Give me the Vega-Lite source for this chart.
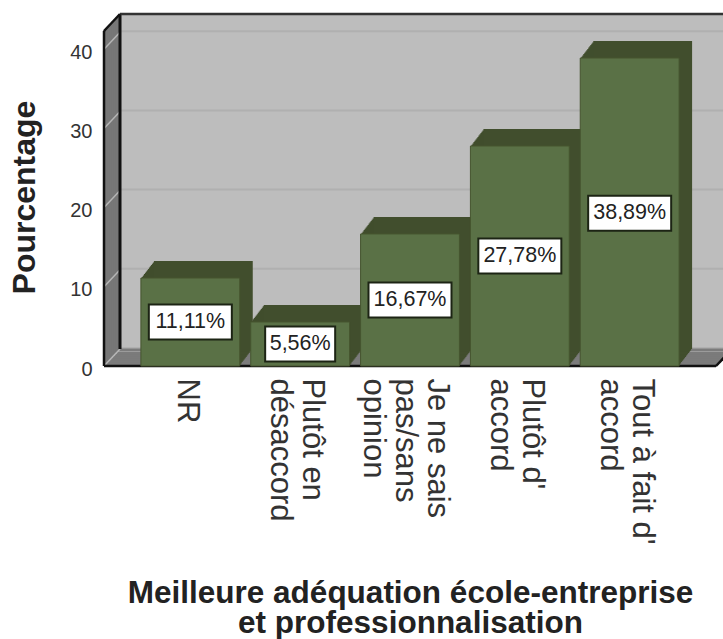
{
"$schema":"https://vega.github.io/schema/vega-lite/v6.json",
"width":612,"height":335,
"autosize":{"type":"none"},
"padding":{"left":104,"top":31,"right":7,"bottom":273},
"background":"white",
"config":{"view":{"stroke":null},"font":"Liberation Sans"},
"datasets":{
"reponses":[
{"reponse":"NR","pct":11.11,"milieu":5.56,"etiquette":"11,11%"},
{"reponse":"Plutôt en désaccord","pct":5.56,"milieu":2.78,"etiquette":"5,56%"},
{"reponse":"Je ne sais pas/sans opinion","pct":16.67,"milieu":8.33,"etiquette":"16,67%"},
{"reponse":"Plutôt d' accord","pct":27.78,"milieu":13.89,"etiquette":"27,78%"},
{"reponse":"Tout à fait d' accord","pct":38.89,"milieu":19.3,"etiquette":"38,89%"}],
"cadre":[{"a":0,"b":1,"bas":0,"haut":42.3}],
"grille":[{"g":0,"a":0,"b":1},{"g":10,"a":0,"b":1},{"g":20,"a":0,"b":1},{"g":30,"a":0,"b":1},{"g":40,"a":0,"b":1}]
},
"resolve":{"scale":{"x":"independent"},"axis":{"x":"independent"}},
"layer":[
{"encoding":{"x":{"field":"a","type":"quantitative","scale":{"domain":[0,1]},"axis":null}},
 "layer":[
 {"data":{"name":"cadre"},"mark":{"type":"rect","color":"#bdbdbd","xOffset":16,"x2Offset":16,"yOffset":-17,"y2Offset":-17},
  "encoding":{"x2":{"field":"b"},"y":{"field":"bas","type":"quantitative","scale":{"domain":[0,42.3],"nice":false},"axis":{"values":[0,10,20,30,40],"grid":false,"domain":false,"ticks":false,"labelFontSize":20,"labelColor":"#333","labelPadding":12,"labelOffset":3,"title":"Pourcentage","titleFontSize":32,"titleFontWeight":"bold","titleColor":"#222","titleX":-63,"titleY":166}},"y2":{"field":"haut"}}},
 {"data":{"name":"grille"},"mark":{"type":"rule","color":"#b0b0b0","strokeWidth":2,"xOffset":16,"x2Offset":16,"yOffset":-18},
  "encoding":{"x2":{"field":"b"},"y":{"field":"g","type":"quantitative"}}},
 {"data":{"name":"cadre"},"mark":{"type":"rule","color":"#777777","strokeWidth":3,"xOffset":1,"yOffset":-1,"y2Offset":-1},"encoding":{"y":{"field":"bas","type":"quantitative"},"y2":{"field":"haut"}}},
 {"data":{"name":"cadre"},"mark":{"type":"rule","color":"#777777","strokeWidth":3,"xOffset":3,"yOffset":-3,"y2Offset":-3},"encoding":{"y":{"field":"bas","type":"quantitative"},"y2":{"field":"haut"}}},
 {"data":{"name":"cadre"},"mark":{"type":"rule","color":"#777777","strokeWidth":3,"xOffset":5,"yOffset":-5,"y2Offset":-5},"encoding":{"y":{"field":"bas","type":"quantitative"},"y2":{"field":"haut"}}},
 {"data":{"name":"cadre"},"mark":{"type":"rule","color":"#777777","strokeWidth":3,"xOffset":7,"yOffset":-7,"y2Offset":-7},"encoding":{"y":{"field":"bas","type":"quantitative"},"y2":{"field":"haut"}}},
 {"data":{"name":"cadre"},"mark":{"type":"rule","color":"#777777","strokeWidth":3,"xOffset":9,"yOffset":-9.5,"y2Offset":-9.5},"encoding":{"y":{"field":"bas","type":"quantitative"},"y2":{"field":"haut"}}},
 {"data":{"name":"cadre"},"mark":{"type":"rule","color":"#777777","strokeWidth":3,"xOffset":11,"yOffset":-11.5,"y2Offset":-11.5},"encoding":{"y":{"field":"bas","type":"quantitative"},"y2":{"field":"haut"}}},
 {"data":{"name":"cadre"},"mark":{"type":"rule","color":"#777777","strokeWidth":3,"xOffset":13,"yOffset":-13.5,"y2Offset":-13.5},"encoding":{"y":{"field":"bas","type":"quantitative"},"y2":{"field":"haut"}}},
 {"data":{"name":"cadre"},"mark":{"type":"rule","color":"#777777","strokeWidth":3,"xOffset":15,"yOffset":-16,"y2Offset":-16},"encoding":{"y":{"field":"bas","type":"quantitative"},"y2":{"field":"haut"}}},
 {"data":{"name":"cadre"},"mark":{"type":"rule","color":"#7b7b7b","strokeWidth":3.2,"xOffset":1,"x2Offset":1,"yOffset":-1},"encoding":{"x2":{"field":"b"},"y":{"field":"bas","type":"quantitative"}}},
 {"data":{"name":"cadre"},"mark":{"type":"rule","color":"#7b7b7b","strokeWidth":3.2,"xOffset":3,"x2Offset":3,"yOffset":-3},"encoding":{"x2":{"field":"b"},"y":{"field":"bas","type":"quantitative"}}},
 {"data":{"name":"cadre"},"mark":{"type":"rule","color":"#7b7b7b","strokeWidth":3.2,"xOffset":5,"x2Offset":5,"yOffset":-5},"encoding":{"x2":{"field":"b"},"y":{"field":"bas","type":"quantitative"}}},
 {"data":{"name":"cadre"},"mark":{"type":"rule","color":"#7b7b7b","strokeWidth":3.2,"xOffset":7,"x2Offset":7,"yOffset":-7},"encoding":{"x2":{"field":"b"},"y":{"field":"bas","type":"quantitative"}}},
 {"data":{"name":"cadre"},"mark":{"type":"rule","color":"#7b7b7b","strokeWidth":3.2,"xOffset":9,"x2Offset":9,"yOffset":-9},"encoding":{"x2":{"field":"b"},"y":{"field":"bas","type":"quantitative"}}},
 {"data":{"name":"cadre"},"mark":{"type":"rule","color":"#7b7b7b","strokeWidth":3.2,"xOffset":11,"x2Offset":11,"yOffset":-11},"encoding":{"x2":{"field":"b"},"y":{"field":"bas","type":"quantitative"}}},
 {"data":{"name":"cadre"},"mark":{"type":"rule","color":"#7b7b7b","strokeWidth":3.2,"xOffset":13,"x2Offset":13,"yOffset":-13},"encoding":{"x2":{"field":"b"},"y":{"field":"bas","type":"quantitative"}}},
 {"data":{"name":"cadre"},"mark":{"type":"rule","color":"#7b7b7b","strokeWidth":3.2,"xOffset":15,"x2Offset":15,"yOffset":-16},"encoding":{"x2":{"field":"b"},"y":{"field":"bas","type":"quantitative"}}},
 {"data":{"name":"grille"},"mark":{"type":"rule","color":"#b5b5b5","strokeWidth":1.5,"x2Offset":16,"y2Offset":-17},
  "encoding":{"x2":{"field":"a"},"y":{"field":"g","type":"quantitative"},"y2":{"field":"g"}}},
 {"data":{"name":"cadre"},"mark":{"type":"rule","color":"#111111","strokeWidth":3,"xOffset":16,"yOffset":-17,"y2Offset":-17},"encoding":{"y":{"field":"bas","type":"quantitative"},"y2":{"field":"haut"}}},
 {"data":{"name":"cadre"},"mark":{"type":"rule","color":"#333333","strokeWidth":2.5,"xOffset":16,"x2Offset":16,"yOffset":-17},"encoding":{"x2":{"field":"b"},"y":{"field":"haut","type":"quantitative"}}},
 {"data":{"name":"cadre"},"mark":{"type":"rule","color":"#111111","strokeWidth":2.5},"encoding":{"y":{"field":"bas","type":"quantitative"},"y2":{"field":"haut"}}},
 {"data":{"name":"cadre"},"mark":{"type":"rule","color":"#111111","strokeWidth":2.5,"x2Offset":16,"y2Offset":-17},"encoding":{"x2":{"field":"a"},"y":{"field":"haut","type":"quantitative"},"y2":{"field":"haut"}}},
 {"data":{"name":"cadre"},"mark":{"type":"rule","color":"#111111","strokeWidth":2.5,"x2Offset":16,"y2Offset":-17},"encoding":{"x":{"field":"b","type":"quantitative"},"x2":{"field":"b"},"y":{"field":"bas","type":"quantitative"},"y2":{"field":"bas"}}},
 {"data":{"name":"cadre"},"mark":{"type":"rule","color":"#111111","strokeWidth":2.5},"encoding":{"x2":{"field":"b"},"y":{"field":"bas","type":"quantitative"}}}
 ]},
{"data":{"name":"reponses"},
 "encoding":{"x":{"field":"reponse","type":"nominal","sort":null,"scale":{"paddingInner":0.1,"paddingOuter":0.336},
   "axis":{"domain":false,"ticks":false,"grid":false,"labelAngle":90,"labelFontSize":31,"labelColor":"#333","labelPadding":12,"labelLimit":300,"labelLineHeight":32,
   "labelOffset":{"condition":[{"test":"datum.value=='NR'","value":-3},{"test":"datum.value=='Je ne sais pas/sans opinion'","value":27}],"value":12},
   "labelExpr":"datum.label=='Plutôt en désaccord'?['Plutôt en','désaccord']:datum.label=='Je ne sais pas/sans opinion'?['Je ne sais','pas/sans','opinion']:datum.label==\"Plutôt d' accord\"?[\"Plutôt d'\",'accord']:datum.label==\"Tout à fait d' accord\"?[\"Tout à fait d'\",'accord']:datum.label",
   "title":["Meilleure adéquation école-entreprise","et professionnalisation"],"titleFontSize":31.5,"titleFontWeight":"bold","titleColor":"#222","titleLimit":700,"titleLineHeight":30,"titleY":211}}},
 "layer":[
 {"mark":{"type":"bar","color":"#414e2d","xOffset":1,"x2Offset":1,"yOffset":-1.3,"y2Offset":-1.3},"encoding":{"y":{"field":"pct","type":"quantitative"}}},
 {"mark":{"type":"bar","color":"#414e2d","xOffset":2,"x2Offset":2,"yOffset":-2.6,"y2Offset":-2.6},"encoding":{"y":{"field":"pct","type":"quantitative"}}},
 {"mark":{"type":"bar","color":"#414e2d","xOffset":3,"x2Offset":3,"yOffset":-3.9,"y2Offset":-3.9},"encoding":{"y":{"field":"pct","type":"quantitative"}}},
 {"mark":{"type":"bar","color":"#414e2d","xOffset":4,"x2Offset":4,"yOffset":-5.2,"y2Offset":-5.2},"encoding":{"y":{"field":"pct","type":"quantitative"}}},
 {"mark":{"type":"bar","color":"#414e2d","xOffset":5,"x2Offset":5,"yOffset":-6.5,"y2Offset":-6.5},"encoding":{"y":{"field":"pct","type":"quantitative"}}},
 {"mark":{"type":"bar","color":"#414e2d","xOffset":6,"x2Offset":6,"yOffset":-7.8,"y2Offset":-7.8},"encoding":{"y":{"field":"pct","type":"quantitative"}}},
 {"mark":{"type":"bar","color":"#414e2d","xOffset":7,"x2Offset":7,"yOffset":-9.1,"y2Offset":-9.1},"encoding":{"y":{"field":"pct","type":"quantitative"}}},
 {"mark":{"type":"bar","color":"#414e2d","xOffset":8,"x2Offset":8,"yOffset":-10.4,"y2Offset":-10.4},"encoding":{"y":{"field":"pct","type":"quantitative"}}},
 {"mark":{"type":"bar","color":"#414e2d","xOffset":9,"x2Offset":9,"yOffset":-11.7,"y2Offset":-11.7},"encoding":{"y":{"field":"pct","type":"quantitative"}}},
 {"mark":{"type":"bar","color":"#414e2d","xOffset":10,"x2Offset":10,"yOffset":-13,"y2Offset":-13},"encoding":{"y":{"field":"pct","type":"quantitative"}}},
 {"mark":{"type":"bar","color":"#414e2d","xOffset":11,"x2Offset":11,"yOffset":-14.3,"y2Offset":-14.3},"encoding":{"y":{"field":"pct","type":"quantitative"}}},
 {"mark":{"type":"bar","color":"#414e2d","xOffset":12,"x2Offset":12,"yOffset":-15.6,"y2Offset":-15.6},"encoding":{"y":{"field":"pct","type":"quantitative"}}},
 {"mark":{"type":"bar","color":"#414e2d","xOffset":13,"x2Offset":13,"yOffset":-17,"y2Offset":-17},"encoding":{"y":{"field":"pct","type":"quantitative"}}},
 {"mark":{"type":"bar","color":"#5a7146","stroke":"#46552f","strokeWidth":1},"encoding":{"y":{"field":"pct","type":"quantitative"}}},
 {"transform":[{"filter":"datum.etiquette!='5,56%'"}],"mark":{"type":"rect","fill":"white","stroke":"#1c2414","strokeWidth":2,"width":83,"height":35},"encoding":{"y":{"field":"milieu","type":"quantitative"}}},
 {"transform":[{"filter":"datum.etiquette=='5,56%'"}],"mark":{"type":"rect","fill":"white","stroke":"#1c2414","strokeWidth":2,"width":70,"height":35},"encoding":{"y":{"field":"milieu","type":"quantitative"}}},
 {"mark":{"type":"text","fontSize":21.5,"color":"#222","baseline":"middle"},"encoding":{"y":{"field":"milieu","type":"quantitative"},"text":{"field":"etiquette"}}}
 ]}
]
}
